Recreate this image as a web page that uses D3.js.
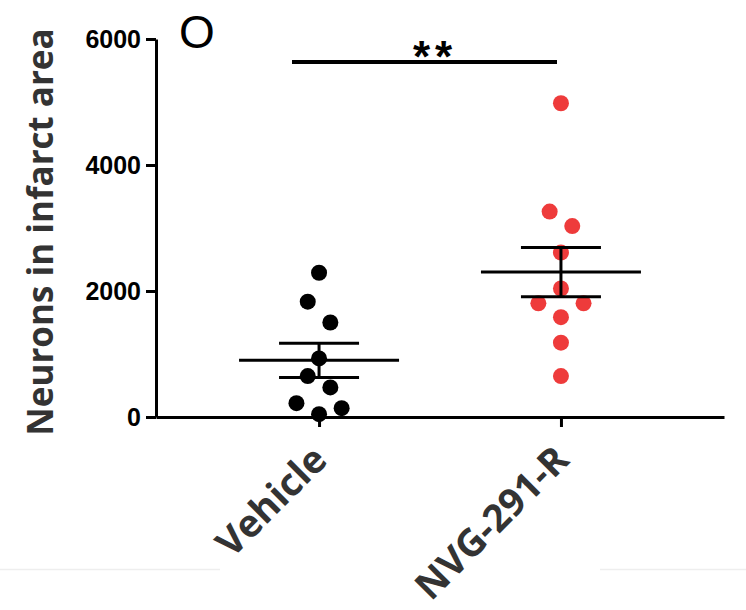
<!DOCTYPE html>
<html>
<head>
<meta charset="utf-8">
<script src="https://cdn.jsdelivr.net/npm/d3@7"></script>
<style>
  body { margin: 0; background: #fff; }
  svg { display: block; }
</style>
</head>
<body>
<svg width="746" height="610"></svg>
<script>
const groups = ["Vehicle", "NVG-291-R"];
const vehicleValues = [2290, 1830, 1500, 930, 650, 470, 220, 140, 45];
const vehicleJitter = [0, -1, 1, 0, -1, 1, -2, 2, 0];
const nvgValues = [4980, 3260, 3030, 2610, 2040, 1805, 1805, 1585, 1180, 650];
const nvgJitter = [0, -1, 1, 0, 0, -2, 2, 0, 0, 0];
const means = [900, 2300];
const sems = [272, 390];
const yTicks = [0, 2000, 4000, 6000];
const colors = ["#000000", "#ee3b3b"];

const svg = d3.select("svg");

const margin = {top: 39, left: 156, right: 22, bottom: 193};
const w = 746 - margin.left - margin.right;
const h = 610 - margin.top - margin.bottom;

const x = d3.scalePoint()
    .domain(groups)
    .range([margin.left, margin.left + w])
    .padding(0.674);

const y = d3.scaleLinear()
    .domain([0, 6000])
    .range([margin.top + h, margin.top]);

const jitterStep = 11.3;

// faint image border line
svg.append("line")
    .attr("x1", 0).attr("x2", 220).attr("y1", 569.5).attr("y2", 569.5)
    .attr("stroke", "#eeeeee").attr("stroke-width", 1.5);
svg.append("line")
    .attr("x1", 600).attr("x2", 746).attr("y1", 569.5).attr("y2", 569.5)
    .attr("stroke", "#eeeeee").attr("stroke-width", 1.5);

// y axis
const yAxis = svg.append("g")
    .attr("transform", `translate(${margin.left},0)`)
    .call(d3.axisLeft(y).tickValues(yTicks).tickFormat(d3.format("d"))
        .tickSize(10).tickSizeOuter(0).tickPadding(5));
yAxis.select(".domain").attr("stroke-width", 3);
yAxis.selectAll(".tick line").attr("stroke-width", 3);
yAxis.selectAll(".tick text")
    .attr("font-family", "Liberation Sans, Arial, sans-serif")
    .attr("font-weight", "bold")
    .attr("font-size", 25)
    .attr("fill", "#000");

// x axis
const xAxis = svg.append("g")
    .attr("transform", `translate(0,${margin.top + h})`)
    .call(d3.axisBottom(x).tickSize(10).tickSizeOuter(0));
xAxis.select(".domain").attr("stroke-width", 3);
xAxis.selectAll(".tick line").attr("stroke-width", 3);
xAxis.selectAll(".tick text").remove();

// category labels, rotated
svg.selectAll(".xlab")
    .data(groups)
    .enter().append("text")
    .attr("class", "xlab")
    .attr("transform", d => `translate(${x(d) + 10},${margin.top + h + 45}) rotate(-45)`)
    .attr("text-anchor", "end")
    .attr("font-family", "Open Sans, sans-serif")
    .attr("font-weight", "bold")
    .attr("font-size", 38)
    .attr("fill", "#333")
    .text(d => d);

// y title
svg.append("text")
    .attr("transform", `translate(53,232) rotate(-90)`)
    .attr("text-anchor", "middle")
    .attr("font-family", "Open Sans, sans-serif")
    .attr("font-weight", "bold")
    .attr("font-size", 35)
    .attr("fill", "#333")
    .text("Neurons in infarct area");

// dots
const series = [
    {g: groups[0], vals: vehicleValues, jit: vehicleJitter, col: colors[0]},
    {g: groups[1], vals: nvgValues, jit: nvgJitter, col: colors[1]}
];
series.forEach(s => {
    svg.append("g").selectAll("circle")
        .data(s.vals)
        .enter().append("circle")
        .attr("cx", (d, i) => x(s.g) + s.jit[i] * jitterStep)
        .attr("cy", d => y(d))
        .attr("r", 8)
        .attr("fill", s.col);
});

// mean +- SEM
groups.forEach((g, i) => {
    const cx = x(g);
    const eb = svg.append("g").attr("stroke", "#000").attr("stroke-width", 3);
    eb.append("line")
        .attr("x1", cx - 80).attr("x2", cx + 80)
        .attr("y1", y(means[i])).attr("y2", y(means[i]));
    eb.append("line")
        .attr("x1", cx).attr("x2", cx)
        .attr("y1", y(means[i] - sems[i])).attr("y2", y(means[i] + sems[i]));
    [means[i] - sems[i], means[i] + sems[i]].forEach(v => {
        eb.append("line")
            .attr("x1", cx - 40).attr("x2", cx + 40)
            .attr("y1", y(v)).attr("y2", y(v));
    });
});

// significance bar
svg.append("line")
    .attr("x1", 292).attr("x2", 557)
    .attr("y1", 62).attr("y2", 62)
    .attr("stroke", "#000").attr("stroke-width", 4);
svg.append("text")
    .attr("x", 435).attr("y", 72)
    .attr("text-anchor", "middle")
    .attr("font-family", "Liberation Sans, Arial, sans-serif")
    .attr("font-weight", "bold")
    .attr("font-size", 44)
    .attr("letter-spacing", 5)
    .attr("fill", "#000")
    .text("**");

// panel letter
svg.append("text")
    .attr("x", 197).attr("y", 48)
    .attr("text-anchor", "middle")
    .attr("font-family", "Liberation Sans, Arial, sans-serif")
    .attr("font-size", 46)
    .attr("fill", "#000")
    .text("O");
</script>
</body>
</html>
